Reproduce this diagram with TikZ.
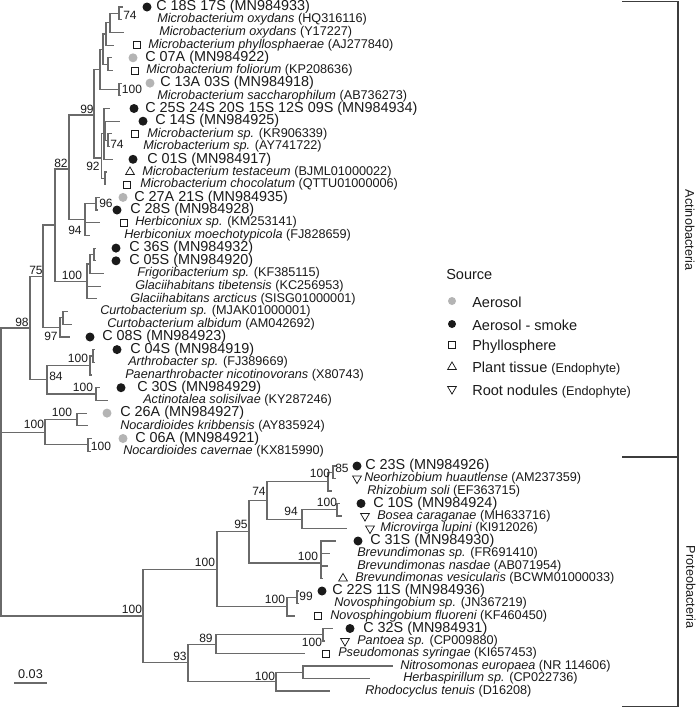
\documentclass[tikz,border=0pt]{standalone}
\usepackage{fontspec}
\setmainfont{Liberation Sans}
\usetikzlibrary{shapes.geometric}
\definecolor{brc}{HTML}{6A6A6A}
\definecolor{aerogray}{HTML}{B4B4B4}
\definecolor{txt}{HTML}{1A1A1A}
\definecolor{clc}{HTML}{3C3C3C}
\newcommand{\cfnt}{\fontsize{10.8}{11}\selectfont}
\newcommand{\spn}[2]{{\itshape #1} #2}
\newcommand{\Lm}[7]{\coordinate (#1) at (#2,#3); \node[#4] (#1m) at (#5,#3) {}; \node[lab] (#1t) at (#6,#3) {#7};}
\newcommand{\Ln}[5]{\coordinate (#1) at (#2,#3); \node[lab] (#1t) at (#4,#3) {#5};}
\newcommand{\edg}[2]{\draw[br] (#1) |- (#2);}
\tikzset{
  br/.style={draw=brc, line width=0.8pt},
  lab/.style={font=\fontsize{9.5}{10}\selectfont, text=txt, inner sep=0pt, anchor=west},
  bs/.style={font=\fontsize{9}{9}\selectfont, text=txt, inner sep=0pt},
  leg/.style={font=\fontsize{10.9}{12}\selectfont, text=txt, inner sep=0pt, anchor=west},
  blk/.style={circle, fill=txt, minimum size=6.75pt, inner sep=0pt},
  gry/.style={circle, fill=aerogray, minimum size=6.75pt, inner sep=0pt},
  sq/.style={rectangle, draw=txt, line width=0.55pt, minimum size=5.3pt, inner sep=0pt},
  tup/.style={regular polygon, regular polygon sides=3, draw=txt, line width=0.55pt, minimum size=7.6pt, inner sep=0pt},
  tdn/.style={regular polygon, regular polygon sides=3, shape border rotate=180, draw=txt, line width=0.55pt, minimum size=7.6pt, inner sep=0pt},
  clline/.style={draw=clc, line width=0.9pt},
}
\begin{document}
\begin{tikzpicture}[x=0.75pt,y=-0.75pt]
\useasboundingbox (0,0) rectangle (699,708);
\path[fill=white] (0,0) rectangle (699,708);

% ---------------- leaves: Actinobacteria
\Lm{l1}{123}{7.0}{blk}{147}{156}{\cfnt C 18S 17S (MN984933)}
\Ln{l2}{122}{19.7}{157}{\spn{Microbacterium oxydans}{(HQ316116)}}
\Ln{l3}{124}{32.4}{159}{\spn{Microbacterium oxydans}{(Y17227)}}
\Lm{l4}{114}{45.1}{sq}{137}{148}{\spn{Microbacterium phyllosphaerae}{(AJ277840)}}
\Lm{l5}{112}{57.8}{gry}{133}{145}{\cfnt C 07A (MN984922)}
\Lm{l6}{113}{70.5}{sq}{135}{146}{\spn{Microbacterium foliorum}{(KP208636)}}
\Lm{l7}{122}{83.1}{gry}{150}{160}{\cfnt C 13A 03S (MN984918)}
\Ln{l8}{121}{95.8}{157}{\spn{Microbacterium saccharophilum}{(AB736273)}}
\Lm{l9}{110}{108.5}{blk}{134}{145}{\cfnt C 25S 24S 20S 15S 12S 09S (MN984934)}
\Lm{l10}{120}{121.2}{blk}{143}{155}{\cfnt C 14S (MN984925)}
\Lm{l11}{112}{133.9}{sq}{135}{147}{\spn{Microbacterium sp.}{(KR906339)}}
\Ln{l12}{110}{146.6}{143}{\spn{Microbacterium sp.}{(AY741722)}}
\Lm{l13}{113}{159.3}{blk}{133}{147}{\cfnt C 01S (MN984917)}
\Lm{l14}{107}{172.0}{tup}{130}{142}{\spn{Microbacterium testaceum}{(BJML01000022)}}
\Lm{l15}{106}{184.7}{sq}{127}{140}{\spn{Microbacterium chocolatum}{(QTTU01000006)}}
\Lm{l16}{100}{197.4}{gry}{123}{134}{\cfnt C 27A 21S (MN984935)}
\Lm{l17}{98}{210.0}{blk}{117}{130}{\cfnt C 28S (MN984928)}
\Lm{l18}{100}{222.7}{sq}{124}{135}{\spn{Herbiconiux sp.}{(KM253141)}}
\Ln{l19}{90}{235.4}{124}{\spn{Herbiconiux moechotypicola}{(FJ828659)}}
\Lm{l20}{96}{248.1}{blk}{116}{129}{\cfnt C 36S (MN984932)}
\Lm{l21}{96}{260.8}{blk}{116}{129}{\cfnt C 05S (MN984920)}
\Ln{l22}{104}{273.5}{137}{\spn{Frigoribacterium sp.}{(KF385115)}}
\Ln{l23}{101}{286.2}{135}{\spn{Glaciihabitans tibetensis}{(KC256953)}}
\Ln{l24}{97}{298.9}{130}{\spn{Glaciihabitans arcticus}{(SISG01000001)}}
\Ln{l25}{68}{311.6}{100}{\spn{Curtobacterium sp.}{(MJAK01000001)}}
\Ln{l26}{72}{324.3}{107}{\spn{Curtobacterium albidum}{(AM042692)}}
\Lm{l27}{70}{337.0}{blk}{90}{102}{\cfnt C 08S (MN984923)}
\Lm{l28}{95}{349.6}{blk}{117}{130}{\cfnt C 04S (MN984919)}
\Ln{l29}{95}{362.3}{128}{\spn{Arthrobacter sp.}{(FJ389669)}}
\Ln{l30}{92}{375.0}{125}{\spn{Paenarthrobacter nicotinovorans}{(X80743)}}
\Lm{l31}{100}{387.7}{blk}{121}{137}{\cfnt C 30S (MN984929)}
\Ln{l32}{108}{400.4}{143}{\spn{Actinotalea solisilvae}{(KY287246)}}
\Lm{l33}{87}{413.1}{gry}{107}{120}{\cfnt C 26A (MN984927)}
\Ln{l34}{88}{425.8}{120}{\spn{Nocardioides kribbensis}{(AY835924)}}
\Lm{l35}{92}{438.5}{gry}{123}{135}{\cfnt C 06A (MN984921)}
\Ln{l36}{91}{451.2}{123}{\spn{Nocardioides cavernae}{(KX815990)}}

% ---------------- leaves: Proteobacteria
\Lm{l37}{336}{466}{blk}{357}{365}{\cfnt C 23S (MN984926)}
\Lm{l38}{336}{478.5}{tdn}{357}{364}{\spn{Neorhizobium huautlense}{(AM237359)}}
\Ln{l39}{332}{491}{367}{\spn{Rhizobium soli}{(EF363715)}}
\Lm{l40}{340}{503.5}{blk}{361}{373}{\cfnt C 10S (MN984924)}
\Lm{l41}{342}{516}{tdn}{365}{377}{\spn{Bosea caraganae}{(MH633716)}}
\Lm{l42}{347}{528.5}{tdn}{370}{380}{\spn{Microvirga lupini}{(KI912026)}}
\Lm{l43}{336}{541}{blk}{358}{370}{\cfnt C 31S (MN984930)}
\Ln{l44}{330}{553.5}{357}{\spn{Brevundimonas sp.}{(FR691410)}}
\Ln{l45}{328}{566}{357}{\spn{Brevundimonas nasdae}{(AB071954)}}
\Lm{l46}{323}{578.5}{tup}{343}{355}{\spn{Brevundimonas vesicularis}{(BCWM01000033)}}
\Lm{l47}{299}{591}{blk}{322}{332}{\cfnt C 22S 11S (MN984936)}
\Ln{l48}{299}{603.5}{334}{\spn{Novosphingobium sp.}{(JN367219)}}
\Lm{l49}{295}{616}{sq}{318}{330}{\spn{Novosphingobium fluoreni}{(KF460450)}}
\Lm{l50}{333}{628.5}{blk}{350}{363}{\cfnt C 32S (MN984931)}
\Lm{l51}{325}{641}{tdn}{345}{357}{\spn{Pantoea sp.}{(CP009880)}}
\Lm{l52}{305}{653.5}{sq}{326}{338}{\spn{Pseudomonas syringae}{(KI657453)}}
\Ln{l53}{393}{666}{400}{\spn{Nitrosomonas europaea}{(NR 114606)}}
\Ln{l54}{370}{678.5}{403}{\spn{Herbaspirillum sp.}{(CP022736)}}
\Ln{l55}{330}{691}{365}{\spn{Rhodocyclus tenuis}{(D16208)}}

% ---------------- internal nodes
\coordinate (n74a) at (119,13.35);
\coordinate (u4) at (110,22.9);
\coordinate (u2) at (106,34.0);
\coordinate (u3) at (108,64.15);
\coordinate (u1) at (103,49.1);
\coordinate (n100a) at (119,89.45);
\coordinate (u) at (100,69.3);
\coordinate (n74b) at (108,140.25);
\coordinate (n10) at (105,130.7);
\coordinate (n9a) at (104,133.9);
\coordinate (n9b) at (105,178.35);
\coordinate (n92) at (101.5,158);
\coordinate (n99) at (94,115);
\coordinate (n96) at (96,203.7);
\coordinate (n94) at (85,219.55);
\coordinate (n82) at (69,169);
\coordinate (f2) at (94,254.45);
\coordinate (f1) at (90,264);
\coordinate (f0) at (87,281.45);
\coordinate (n55) at (55,225);
\coordinate (ccu) at (63,317.95);
\coordinate (c97) at (60,327.5);
\coordinate (n75) at (43,276.2);
\coordinate (a1) at (93,356);
\coordinate (a100) at (90,365.5);
\coordinate (c30) at (96,394);
\coordinate (n84) at (47,379.8);
\coordinate (n98) at (30,328);
\coordinate (nk1) at (77,419.45);
\coordinate (nk2) at (88,444.85);
\coordinate (nk) at (45,432.15);
\coordinate (p85) at (333,472.25);
\coordinate (p100c) at (328,481.6);
\coordinate (p100d) at (337,509.75);
\coordinate (p94) at (302,519.1);
\coordinate (p74) at (267,500.4);
\coordinate (pbrev) at (321,563);
\coordinate (p95) at (249,531.7);
\coordinate (p99) at (297,597.25);
\coordinate (pnov) at (287,606.6);
\coordinate (p100b) at (217,569.15);
\coordinate (p100f) at (323,634.75);
\coordinate (p89) at (216,644.1);
\coordinate (pn) at (303,672.25);
\coordinate (p100e) at (276,681.6);
\coordinate (p93) at (188,662.85);
\coordinate (p100) at (143,616);
\coordinate (root) at (1,471.85);

% ---------------- branches
\edg{n74a}{l1}\edg{n74a}{l2}
\edg{u4}{n74a}\edg{u4}{l3}
\edg{u2}{u4}\edg{u2}{l4}
\edg{u3}{l5}\edg{u3}{l6}
\edg{u1}{u2}\edg{u1}{u3}
\edg{n100a}{l7}\edg{n100a}{l8}
\edg{u}{u1}\edg{u}{n100a}
\edg{n74b}{l11}\edg{n74b}{l12}
\edg{n10}{l10}\edg{n10}{n74b}
\edg{n9a}{l9}\edg{n9a}{n10}\edg{n9a}{l13}
\edg{n9b}{l14}\edg{n9b}{l15}
\edg{n92}{n9a}\edg{n92}{n9b}
\edg{n99}{u}\edg{n99}{n92}
\edg{n96}{l16}\edg{n96}{l17}
\edg{n94}{n96}\edg{n94}{l18}\edg{n94}{l19}
\edg{n82}{n99}\edg{n82}{n94}
\edg{f2}{l20}\edg{f2}{l21}
\edg{f1}{f2}\edg{f1}{l22}
\edg{f0}{f1}\edg{f0}{l23}\edg{f0}{l24}
\edg{n55}{n82}\edg{n55}{f0}
\edg{ccu}{l25}\edg{ccu}{l26}
\edg{c97}{ccu}\edg{c97}{l27}
\edg{n75}{n55}\edg{n75}{c97}
\edg{a1}{l28}\edg{a1}{l29}
\edg{a100}{a1}\edg{a100}{l30}
\edg{c30}{l31}\edg{c30}{l32}
\edg{n84}{a100}\edg{n84}{c30}
\edg{n98}{n75}\edg{n98}{n84}
\edg{nk1}{l33}\edg{nk1}{l34}
\edg{nk2}{l35}\edg{nk2}{l36}
\edg{nk}{nk1}\edg{nk}{nk2}
\edg{root}{n98}\edg{root}{nk}\edg{root}{p100}
\edg{p85}{l37}\edg{p85}{l38}
\edg{p100c}{p85}\edg{p100c}{l39}
\edg{p100d}{l40}\edg{p100d}{l41}
\edg{p94}{p100d}\edg{p94}{l42}
\edg{p74}{p100c}\edg{p74}{p94}
\edg{pbrev}{l43}\edg{pbrev}{l44}\edg{pbrev}{l45}\edg{pbrev}{l46}
\edg{p95}{p74}\edg{p95}{pbrev}
\edg{p99}{l47}\edg{p99}{l48}
\edg{pnov}{p99}\edg{pnov}{l49}
\edg{p100b}{p95}\edg{p100b}{pnov}
\edg{p100f}{l50}\edg{p100f}{l51}
\edg{p89}{p100f}\edg{p89}{l52}
\edg{pn}{l53}\edg{pn}{l54}
\edg{p100e}{pn}\edg{p100e}{l55}
\edg{p93}{p89}\edg{p93}{p100e}
\edg{p100}{p100b}\edg{p100}{p93}

% ---------------- bootstrap values
\node[bs] (b1) at (130,15) {74};
\node[bs] (b2) at (132,89) {100};
\node[bs] (b3) at (87,109) {99};
\node[bs] (b4) at (117,144) {74};
\node[bs] (b5) at (61,163) {82};
\node[bs] (b6) at (93,166) {92};
\node[bs] (b7) at (106,203) {96};
\node[bs] (b8) at (75,230) {94};
\node[bs] (b9) at (72,275) {100};
\node[bs] (b10) at (36,270) {75};
\node[bs] (b11) at (22,322) {98};
\node[bs] (b12) at (51,336) {97};
\node[bs] (b13) at (78,358) {100};
\node[bs] (b14) at (56,376) {84};
\node[bs] (b15) at (83,387) {100};
\node[bs] (b16) at (62,412) {100};
\node[bs] (b17) at (34,424) {100};
\node[bs] (b18) at (101,446) {100};
\node[bs] (b19) at (342,468) {85};
\node[bs] (b20) at (320,473) {100};
\node[bs] (b21) at (259,491) {74};
\node[bs] (b22) at (327,502) {100};
\node[bs] (b23) at (291,511) {94};
\node[bs] (b24) at (241,524) {95};
\node[bs] (b25) at (308,556) {100};
\node[bs] (b26) at (205,562) {100};
\node[bs] (b27) at (275,599) {100};
\node[bs] (b28) at (306,596) {99};
\node[bs] (b29) at (132,609) {100};
\node[bs] (b30) at (206,638) {89};
\node[bs] (b31) at (312,642) {100};
\node[bs] (b32) at (180,656) {93};
\node[bs] (b33) at (265,676) {100};

% ---------------- scale bar
\coordinate (sb1) at (14,683);
\coordinate (sb2) at (47,683);
\draw[br] (sb1) -- (sb2);
\node[bs, font=\fontsize{9.5}{10}\selectfont] (sbl) at (30.5,674) {0.03};

% ---------------- legend
\node[leg] (lsrc) at (446,274) {Source};
\node[gry, minimum size=6pt] (lg1m) at (452,301) {};
\node[leg] (lg1) at (472,302.5) {Aerosol};
\node[blk, minimum size=6pt] (lg2m) at (452,324) {};
\node[leg] (lg2) at (472,325) {Aerosol - smoke};
\node[sq] (lg3m) at (452,345) {};
\node[leg] (lg3) at (472,347) {Phyllosphere};
\node[tup] (lg4m) at (452,367) {};
\node[leg] (lg4) at (472,369) {Plant tissue {\fontsize{9.5}{10}\selectfont (Endophyte)}};
\node[tdn] (lg5m) at (452,389) {};
\node[leg] (lg5) at (472,392) {Root nodules {\fontsize{9.5}{10}\selectfont (Endophyte)}};

% ---------------- clade brackets
\coordinate (ca1) at (622,1.5);
\coordinate (ca2) at (678,1.5);
\coordinate (ca3) at (678,457);
\coordinate (ca4) at (622,457);
\coordinate (cp3) at (678,706.5);
\coordinate (cp4) at (622,706.5);
\draw[clline] (ca1) -- (ca2) -- (cp3) -- (cp4);
\draw[clline, line width=1.9pt] (ca4) -- (ca3);
\node[font=\fontsize{9.5}{10}\selectfont, text=txt, rotate=-90, inner sep=0pt] (lact) at (690,230) {Actinobacteria};
\node[font=\fontsize{9.5}{10}\selectfont, text=txt, rotate=-90, inner sep=0pt] (lpro) at (691,587) {Proteobacteria};
\end{tikzpicture}
\end{document}
